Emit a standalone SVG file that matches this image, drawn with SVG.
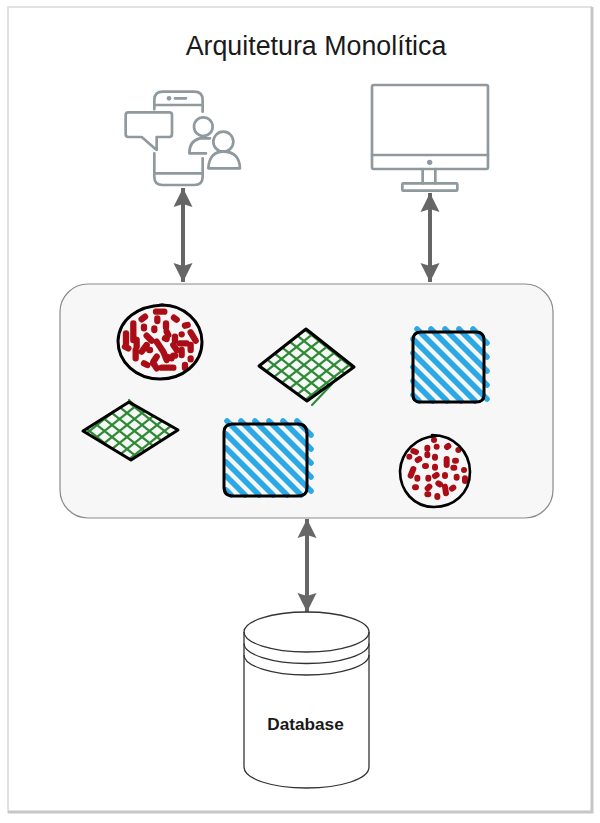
<svg xmlns="http://www.w3.org/2000/svg" width="600" height="823" viewBox="0 0 600 823">
<defs>
<style>
.icon{fill:none;stroke:#8f999e;stroke-width:8;stroke-linecap:round;stroke-linejoin:round}
.sk{fill:none;stroke:#000;stroke-width:3;stroke-linecap:round;stroke-linejoin:round}
.sk2{fill:none;stroke:#000;stroke-width:2.6;stroke-linecap:round;stroke-linejoin:round}
.blue{fill:none;stroke:#29a9e6;stroke-width:5.600;stroke-linecap:round}
.green{fill:none;stroke:#2e8b34;stroke-width:2.200;stroke-linecap:round}
.red{fill:none;stroke:#ab1016;stroke-linecap:round;stroke-linejoin:round}
.conn{fill:none;stroke:#666;stroke-width:4;marker-start:url(#head);marker-end:url(#head)}
.cyl{fill:#fff;stroke:#333;stroke-width:1.3}
.soft{filter:url(#b)}
text{font-family:"Liberation Sans",Arial,sans-serif;fill:#1a1a1a;text-anchor:middle}
</style>
<marker id="head" markerUnits="userSpaceOnUse" markerWidth="20" markerHeight="20" refX="19" refY="10" orient="auto-start-reverse" viewBox="0 0 20 20">
<path d="M0 0.500L19 10L0 19.500L3 10Z" fill="#666"/>
</marker>
<pattern id="grid" patternUnits="userSpaceOnUse" width="15" height="12" x="82" y="401">
<path class="green" d="M0 0L15 12M15 0L0 12" stroke-linecap="square"/>
</pattern>
<pattern id="grid2" patternUnits="userSpaceOnUse" width="15" height="12" x="259" y="329">
<path class="green" d="M0 0L15 12M15 0L0 12" stroke-linecap="square"/>
</pattern>
<filter id="soft" x="-2%" y="-2%" width="104%" height="104%"><feGaussianBlur stdDeviation="0.7"/></filter>
<filter id="b" x="-5%" y="-5%" width="110%" height="110%"><feGaussianBlur stdDeviation="0.4"/></filter>
</defs>

<g id="frame" filter="url(#soft)">
<path d="M8 813V7H592" fill="none" stroke="#e2e2e2" stroke-width="2"/>
<path d="M592 7V812H8" fill="none" stroke="#c6c6c6" stroke-width="3"/>
</g>

<g id="title"><text x="316" y="55" font-size="26.800">Arquitetura Monolítica</text></g>

<g id="mobile-client" class="soft" transform="translate(100 70) scale(.3333)">
<path class="icon" d="M163 118V90Q163 65 188 65H283Q308 65 308 90V125M163 105H308M225 85H258M163 250V320Q163 345 188 345H283Q308 345 308 320V265M163 310H308"/>
<circle cx="207" cy="85" r="7" fill="#8f999e"/>
<path class="icon" d="M85 127H208Q216 127 216 135V193Q216 201 208 201H170V240L125 201H85Q77 201 77 193V135Q77 127 85 127Z"/>
<circle class="icon" cx="310" cy="170" r="28"/>
<path class="icon" d="M330 205H300Q268 212 268 250H318"/>
<circle class="icon" cx="370" cy="215" r="30"/>
<path class="icon" d="M325 295Q328 245 370 245Q418 245 420 295Z"/>
</g>

<g id="desktop-client" class="soft" transform="translate(350 70) scale(.3333)">
<rect class="icon" x="66" y="45" width="348" height="252" rx="5"/>
<path class="icon" d="M66 255H414M218 297V340M256 297V340"/>
<circle cx="239" cy="277" r="8" fill="#8f999e"/>
<rect class="icon" x="157" y="340" width="165" height="22" rx="3"/>
</g>

<g id="monolith"><rect x="60" y="284" width="493" height="234" rx="28" fill="#f7f7f7" stroke="#8a8a8a" stroke-width="1.2"/></g>

<g id="connectors">
<path class="conn" d="M183 188V282"/>
<path class="conn" d="M430 193V282"/>
<path class="conn" d="M307 519V612"/>
</g>

<g id="circle-large" class="soft">
<g transform="translate(70 295) scale(.3333)">
<path class="red" stroke-width="19" d="M225 65l-10 8M258 50h25M262 70v8M312 68l8 6M288 85v12M190 85v50M222 95v5M253 100v5M345 92l8-2M290 110l5 10M230 122l15 15M285 130l5 2M315 125v12M362 112l15 25M335 118h.1M168 115v30M200 135v20M165 155l10 5M230 150l-15 20M260 140l20 30l10 25M330 145h20M362 150v15M197 165v25M310 150l10 15M238 165h2M335 165v15M260 185l-10 15M310 182h5M362 190v3M222 205l10 5M250 205l10 15M275 218h35M345 210v8M290 185l15 5"/>
</g>
<path class="sk" d="M160 305C184 304 202 322 202 342C202 364 182 379 160 379C136 379 118 362 118 341C119 319 138 306 163 305"/>
</g>

<g id="circle-small" class="soft">
<g transform="translate(390 315) scale(.3333)">
<path class="red" stroke-width="18" d="M132 375h.1M112 398v3M140 395h.1M175 393l-4 3M205 405h.1M70 408l8 3M58 425h.1M88 432l-5 3M112 418v3M135 425v3M170 432v18M195 437h3M222 465h.1M190 458h3M70 462l-8 20M82 488v3M105 453h3M135 455v3M140 480l-5 3M165 480v3M200 485v3M225 490v8M115 488v3M145 505l5 3M75 517h3M118 515l-5 5M165 515l3 20M190 518l-4 3M112 538h3M142 543v3"/>
</g>
<path class="sk2" d="M432 435C454 435 470 452 470 472C470 494 453 507 434 507C414 507 400 491 400 471C401 452 416 437 436 436"/>
</g>

<g id="diamond-left" class="soft">
<path d="M83 431L129 402L178 430L131 460Z" fill="url(#grid)"/>
<path class="green" d="M129 400L136 407"/>
<path class="sk" d="M83 431L129 402L178 430L131 460Z"/>
</g>

<g id="diamond-middle" class="soft">
<path d="M259 366L306 329L354 367L307 401Z" fill="url(#grid2)"/>
<path class="green" d="M312 405L332 384"/>
<path class="sk" d="M259 366L306 329L354 367L307 401Z"/>
</g>

<g id="square-large" class="soft">
<path class="blue" d="M297 421L311 435M283 421L311 449M269 421L311 463M255 421L311 477M241 421L311 491M227 421L301 495M226 434L287 495M226 448L273 495M226 462L259 495M226 476L245 495M226 490L231 495"/>
<path class="sk" d="M232 424H298Q307 424 307 434V488Q307 496 298 496H233Q224 496 224 487V432Q224 424 233 424"/>
</g>

<g id="square-small" class="soft">
<path class="blue" d="M473 329L487 343M459 329L487 357M445 329L487 371M431 329L487 385M417 329L487 399M413 339L475 401M413 353L461 401M413 367L447 401M413 381L433 401M413 395L419 401"/>
<path class="sk" d="M420 332H476Q484 332 484 340V395Q484 402 476 402H420Q413 402 413 395V340Q413 332 421 332"/>
</g>

<g id="database">
<path class="cyl" d="M244 632C244 621 272 612 306.500 612C341 612 369 621 369 632V767C369 779 341 788 306.500 788C272 788 244 779 244 767Z"/>
<path class="cyl" d="M244 632C244 643 272 652 306.500 652C341 652 369 643 369 632M244 643.500C244 654.500 272 663.500 306.500 663.500C341 663.500 369 654.500 369 643.500M244 655C244 666 272 675 306.500 675C341 675 369 666 369 655" style="fill:none"/>
<text x="305.500" y="730" font-size="17.200" font-weight="700">Database</text>
</g>
</svg>
